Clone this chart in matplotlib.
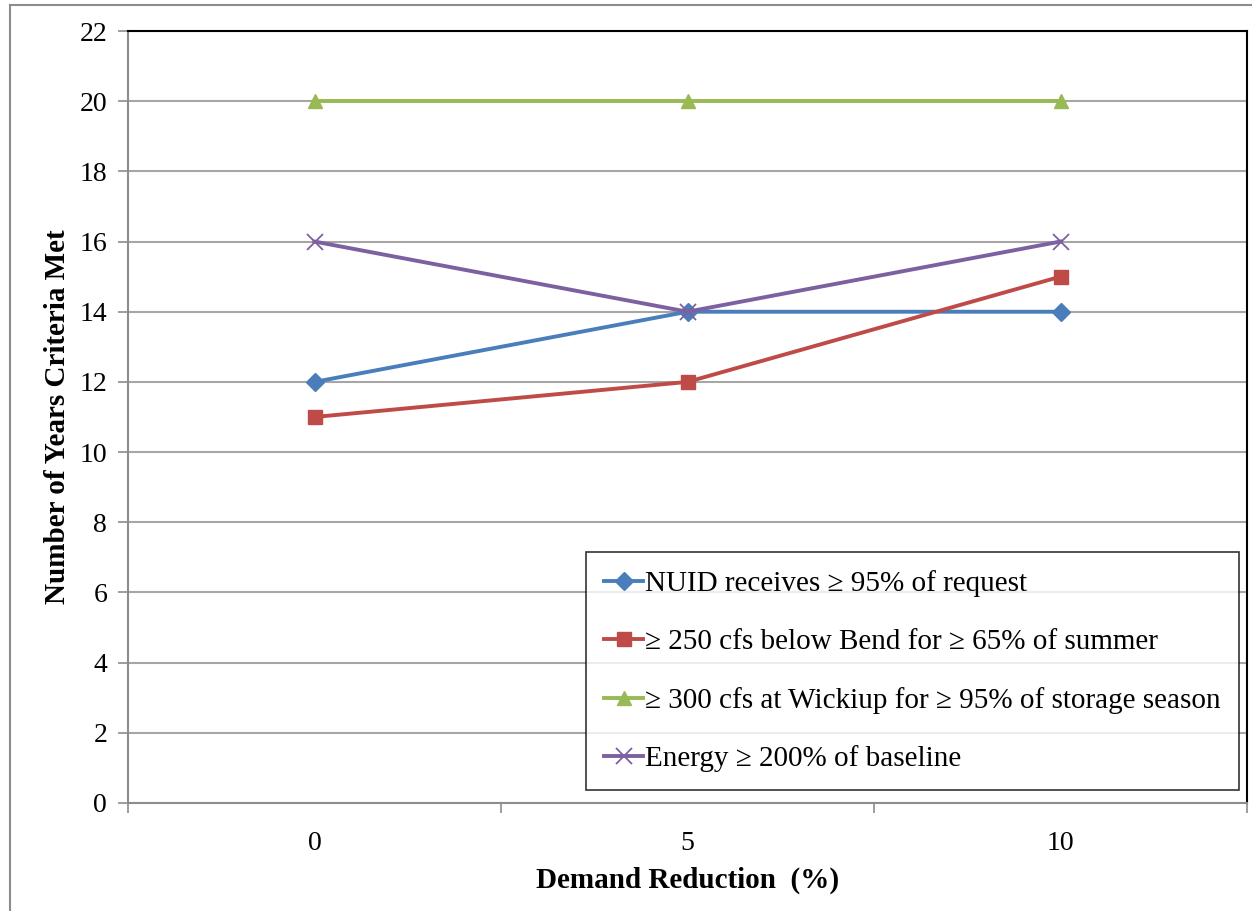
import matplotlib.pyplot as plt
from matplotlib.lines import Line2D

plt.rcParams['font.family'] = ['Liberation Serif', 'DejaVu Serif']

categories = ["0", "5", "10"]
nuid = [12, 14, 14]
bend = [11, 12, 15]
wickiup = [20, 20, 20]
energy = [16, 14, 16]

labels = ["NUID receives \u2265 95% of request",
          "\u2265 250 cfs below Bend for \u2265 65% of summer",
          "\u2265 300 cfs at Wickiup for \u2265 95% of storage season",
          "Energy \u2265 200% of baseline"]

fig = plt.figure(figsize=(12.52, 9.11), dpi=100)
ax = fig.add_axes([128 / 1252, 1 - 803 / 911, (1247 - 128) / 1252, (803 - 31) / 911])

# outer chart frame (top and left visible)
fig.add_artist(Line2D([10 / 1252, 10 / 1252], [0, 1 - 5 / 911], transform=fig.transFigure,
                      color="#8c8c8c", lw=1.5))
fig.add_artist(Line2D([10 / 1252, 1], [1 - 5 / 911, 1 - 5 / 911], transform=fig.transFigure,
                      color="#8c8c8c", lw=1.5))

x = range(len(categories))
ax.plot(x, nuid, color="#4A7EBB", lw=2.8, marker="D", ms=9, label=labels[0], zorder=4)
ax.plot(x, bend, color="#BE4B48", lw=2.8, marker="s", ms=10, label=labels[1], zorder=4)
ax.plot(x, wickiup, color="#98B954", lw=2.8, marker="^", ms=10, label=labels[2], zorder=4)
ax.plot(x, energy, color="#7D60A0", lw=2.8, marker="x", ms=11, mew=1.3, label=labels[3], zorder=5)

ax.set_xlim(-0.5, 2.5)
ax.set_ylim(0, 22)
ax.set_yticks(range(0, 23, 2))
ax.yaxis.grid(True, color="#a6a6a6", lw=1.5)
ax.set_axisbelow(True)

# category axis: ticks between categories, labels centred
ax.set_xticks([-0.5, 0.5, 1.5, 2.5])
ax.set_xticklabels([])
ax.set_xticks(list(x), minor=True)
ax.set_xticklabels(categories, minor=True)
ax.tick_params(axis="x", which="major", length=7, width=1.2, color="#8c8c8c", direction="out")
ax.tick_params(axis="x", which="minor", length=0, labelsize=20, pad=20)
ax.tick_params(axis="y", length=7, width=1.2, color="#8c8c8c", labelsize=20, pad=8)

for s in ["left", "bottom"]:
    ax.spines[s].set_color("#8c8c8c")
    ax.spines[s].set_linewidth(1.5)
for s in ["top", "right"]:
    ax.spines[s].set_color("black")
    ax.spines[s].set_linewidth(1.5)

ax.set_xlabel("Demand Reduction  (%)", fontsize=21, fontweight="bold", labelpad=8)
ax.set_ylabel("Number of Years Criteria Met", fontsize=21, fontweight="bold", labelpad=6)

leg = ax.legend(loc="lower right", bbox_to_anchor=(0.9925, 0.0165), fontsize=21, frameon=True,
                fancybox=False, edgecolor="black", handlelength=1.35, handletextpad=0.05,
                labelspacing=1.08, borderpad=0.62, borderaxespad=0)
leg.get_frame().set_linewidth(1.2)

plt.savefig("out.png", dpi=100)
